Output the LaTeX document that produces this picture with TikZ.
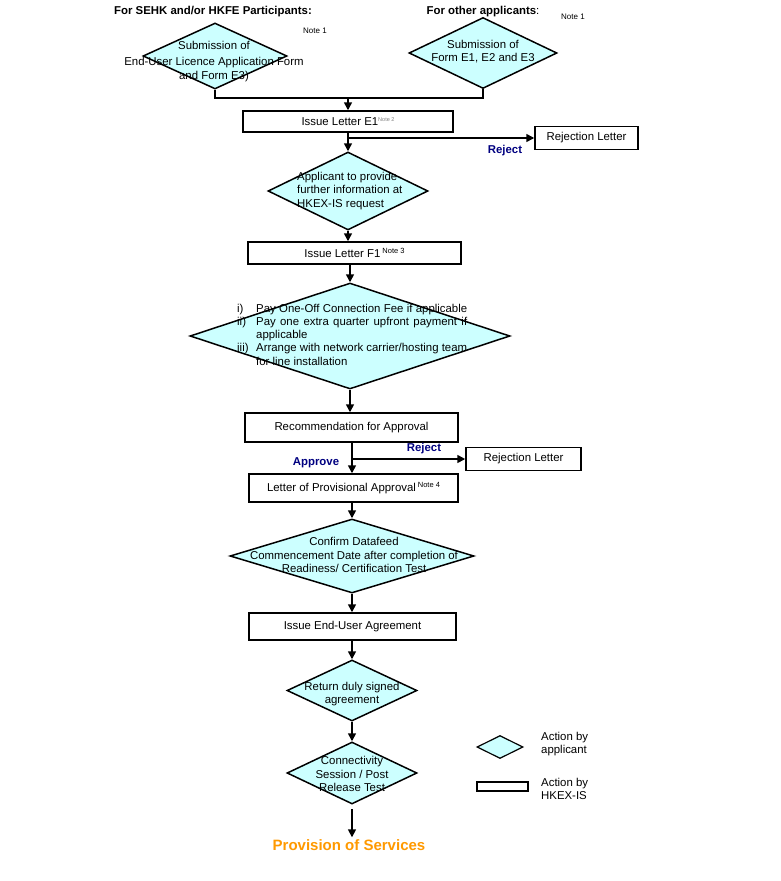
\documentclass[tikz,border=0pt]{standalone}
\usepackage{fontspec}
\setmainfont{Liberation Sans}
\usetikzlibrary{shapes.geometric,arrows.meta}
\definecolor{dfill}{RGB}{204,255,255}
\definecolor{navyb}{RGB}{0,0,128}
\definecolor{orng}{RGB}{255,153,0}
\newcommand{\notesup}[1]{\raisebox{4.5pt}{\fontsize{7.5}{8}\selectfont #1}}
\newcommand{\notesmall}[1]{\raisebox{4.5pt}{\fontsize{5.5}{6}\selectfont\color{gray}#1}}
\begin{document}
\begin{tikzpicture}[x=1pt,y=-1pt,
  every node/.style={font=\fontsize{11.4}{13.3}\selectfont},
  dia/.style={shape=diamond, draw, fill=dfill, line width=1.5pt, inner sep=0pt},
  box/.style={draw, rectangle, line width=1.5pt, inner sep=0pt, fill=white},
  arr/.style={line width=1.6pt, -{Triangle[length=8pt,width=8pt]}},
  ln/.style={line width=1.6pt},
  lbl/.style={font=\bfseries\fontsize{11.4}{13.3}\selectfont, text=navyb, inner sep=0pt},
  ttl/.style={font=\bfseries\fontsize{11.4}{13.3}\selectfont, inner sep=0pt},
  txt/.style={align=center, inner sep=0pt},
  nt/.style={font=\fontsize{8}{9}\selectfont, inner sep=0pt}
]
\useasboundingbox (0,0) rectangle (780,881);

% titles
\node[ttl] (t1) at (213,12) {For SEHK and/or HKFE Participants:};
\node[nt] (n1a) at (315,31) {Note 1};
\node[ttl] (t2) at (483,12) {For other applicants\mdseries:};
\node[nt] (n1b) at (573,17) {Note 1};

% top diamonds
\node[dia, minimum width=144, minimum height=66] (d1) at (215,56) {};
\node[txt] (d1t) at (214,61.5) {Submission of\\[3pt]End-User Licence Application Form\\and Form E3)};
\node[dia, minimum width=148, minimum height=71] (d2) at (483,53) {};
\node[txt] (d2t) at (483,51.5) {Submission of\\Form E1, E2 and E3};
\coordinate (j1) at (348,98);

% E1
\node[box, minimum width=210, minimum height=21] (e1) at (348,121.5) {Issue Letter E1\notesmall{Note 2}};
\node[box, minimum width=103, minimum height=23] (rej1) at (586.5,138) {Rejection Letter};
\coordinate (j2) at (348,138);
\node[lbl] (rl1) at (505,151) {Reject};

% d3
\node[dia, minimum width=160, minimum height=78] (d3) at (348,191) {};
\node[align=left, inner sep=0pt, anchor=west] (d3t) at (297,191) {Applicant to provide\\further information at\\HKEX-IS request};

% F1
\node[box, minimum width=213, minimum height=22] (f1) at (354.5,253) {Issue Letter F1\,\notesup{Note 3}};

% big diamond
\node[dia, minimum width=320, minimum height=106] (d4) at (350,336) {};
\node[inner sep=0pt, anchor=west] (d4t) at (237,336) {\fontsize{11.4}{13.3}\selectfont
\begin{tabular}{@{}l@{}l@{}}
\makebox[19pt][l]{i)} & \makebox[211pt][s]{Pay One-Off Connection Fee if applicable}\\
ii) & \makebox[211pt][s]{Pay one extra quarter upfront payment if}\\
 & applicable\\
iii) & \makebox[211pt][s]{Arrange with network carrier/hosting team}\\
 & for line installation
\end{tabular}};

% recommendation
\node[box, minimum width=213, minimum height=29] (rec) at (351.5,427.5) {Recommendation for Approval};
\coordinate (j3) at (352,459);
\node[box, minimum width=115, minimum height=23] (rej2) at (523.5,459) {Rejection Letter};
\node[lbl] (rl2) at (424,449) {Reject};
\node[lbl] (al) at (316,463) {Approve};
\node[box, minimum width=209, minimum height=28] (lpa) at (353.5,488) {Letter of Provisional Approval\,\notesup{Note 4}};

% d5
\node[dia, minimum width=244, minimum height=74] (d5) at (352,556) {};
\node[txt] (d5t) at (354,555) {Confirm Datafeed\\Commencement Date after completion of\\Readiness/ Certification Test};

% end-user agreement
\node[box, minimum width=207, minimum height=27] (ieua) at (352.5,626.5) {Issue End-User Agreement};

% d6, d7
\node[dia, minimum width=130, minimum height=61] (d6) at (352,690.5) {};
\node[txt] (d6t) at (352,694) {Return duly signed\\agreement};
\node[dia, minimum width=130, minimum height=62] (d7) at (352,773) {};
\node[txt] (d7t) at (352,774) {Connectivity\\Session / Post\\Release Test};
\coordinate (a1) at (352,809);
\node[font=\bfseries\fontsize{15}{17}\selectfont, text=orng, inner sep=0pt] (prov) at (349,845) {Provision of Services};

% legend
\node[dia, minimum width=46, minimum height=23, line width=1.2pt] (ld) at (500,747) {};
\node[align=left, inner sep=0pt, anchor=west] (ldt) at (541,744) {Action by\\applicant};
\node[box, minimum width=51, minimum height=9, line width=1.2pt] (lr) at (502.5,786.5) {};
\node[align=left, inner sep=0pt, anchor=west] (lrt) at (541,789) {Action by\\HKEX-IS};

% connectors
\draw[ln] (d1.south) |- (j1);
\draw[ln] (d2.south) |- (j1);
\draw[arr] (j1) -- (e1.north);
\draw[arr] (e1.south) -- (d3.north);
\draw[arr] (j2) -- (rej1.west);
\draw[arr] (d3.south) -- (d3.south |- f1.north);
\draw[arr] (d4.north |- f1.south) -- (d4.north);
\draw[arr] (d4.south) -- (d4.south |- rec.north);
\draw[arr] (j3 |- rec.south) -- (j3 |- lpa.north);
\draw[arr] (j3) -- (rej2.west);
\draw[arr] (d5.north |- lpa.south) -- (d5.north);
\draw[arr] (d5.south) -- (d5.south |- ieua.north);
\draw[arr] (d6.north |- ieua.south) -- (d6.north);
\draw[arr] (d6.south) -- (d7.north);
\draw[arr] (a1) -- ([yshift=2pt]a1 |- prov.north);
\end{tikzpicture}
\end{document}
